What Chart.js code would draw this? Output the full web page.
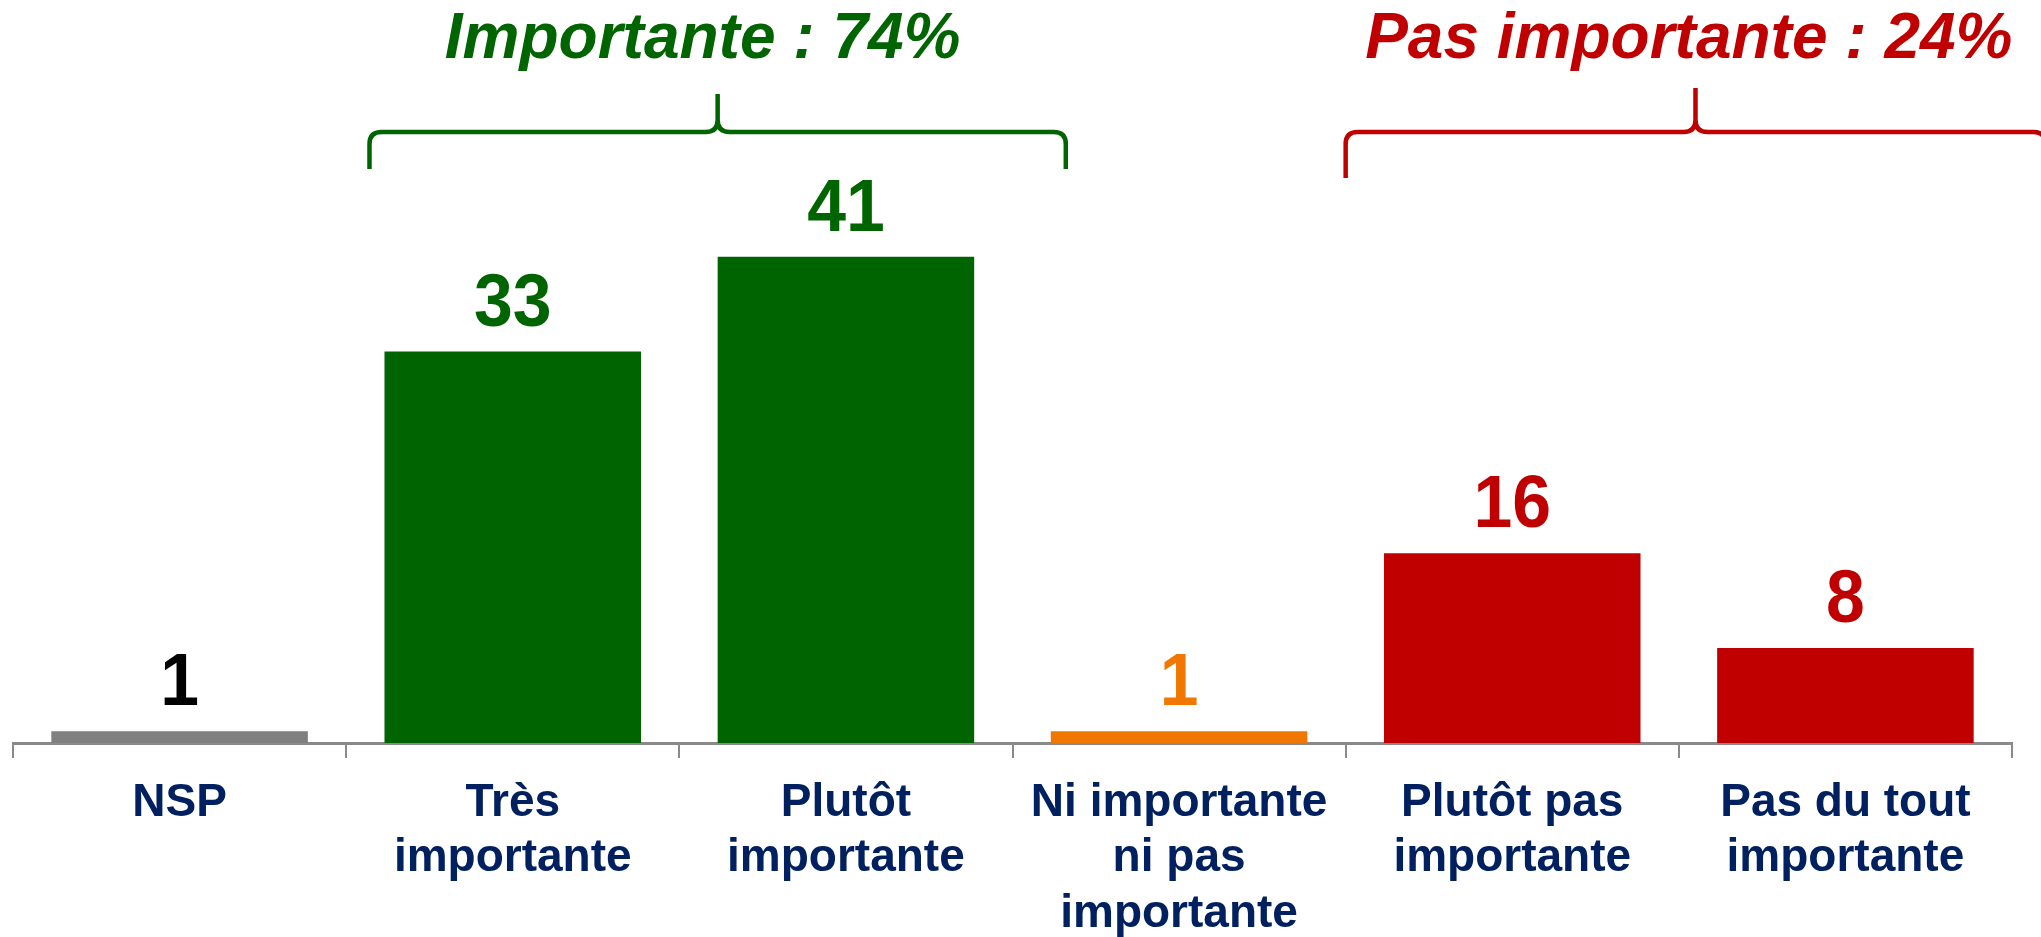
<!DOCTYPE html>
<html lang="fr">
<head>
<meta charset="utf-8">
<title>Importance</title>
<script src="https://cdn.jsdelivr.net/npm/chart.js@4.4.1/dist/chart.umd.min.js"></script>
<style>
  html, body { margin: 0; padding: 0; background: #fff; }
  #wrap { width: 2041px; height: 937px; position: relative; }
</style>
</head>
<body>
<div id="wrap"><canvas id="graphique"></canvas></div>
<script>
// réponses (en %)
const categories = [
    'NSP',
    ['Très', 'importante'],
    ['Plutôt', 'importante'],
    ['Ni importante', 'ni pas', 'importante'],
    ['Plutôt pas', 'importante'],
    ['Pas du tout', 'importante']
];
const valeurs = [1, 33, 41, 1, 16, 8];
const couleursBarres = ['#808080', '#006400', '#006400', '#f07800', '#c00000', '#c00000'];
const couleursValeurs = ['#000000', '#006400', '#006400', '#f07800', '#c00000', '#c00000'];

// regroupements en haut (indices des catégories)
const groupesNoms = ['Importante', 'Pas importante'];
const groupesIndices = [[1, 2], [4, 5]];
const groupesCouleurs = ['#006400', '#c00000'];
const groupesEtendue = [[0.57, 2.66], [3.5, 5.6]];
const groupesTexte = [1.57, 4.53];

const POLICE = "'Liberation Sans', Arial, sans-serif";

// valeurs au-dessus des barres (chiffres un peu resserrés)
const pluginValeurs = {
    id: 'valeurs',
    afterDatasetsDraw(chart) {
        const ctx = chart.ctx;
        const meta = chart.getDatasetMeta(0);
        meta.data.forEach((barre, i) => {
            ctx.save();
            ctx.font = 'bold 75px ' + POLICE;
            ctx.textAlign = 'center';
            ctx.textBaseline = 'alphabetic';
            ctx.fillStyle = couleursValeurs[i];
            ctx.translate(barre.x, barre.y - 26);
            ctx.scale(0.93, 1);
            ctx.fillText(String(valeurs[i]), 0, 0);
            ctx.restore();
        });
    }
};

// accolades et totaux des groupes
const pluginGroupes = {
    id: 'groupes',
    afterDraw(chart) {
        const ctx = chart.ctx;
        const x = chart.scales.x;
        ctx.save();
        groupesNoms.forEach((nom, g) => {
            const total = groupesIndices[g].reduce((s, i) => s + valeurs[i], 0);
            const x0 = x.getPixelForValue(groupesEtendue[g][0]);
            const x1 = x.getPixelForValue(groupesEtendue[g][1]);
            const xm = (x0 + x1) / 2;
            const yH = 132, yBas = g === 0 ? 169 : 178, yHaut = g === 0 ? 94 : 88, r = 12;

            ctx.strokeStyle = groupesCouleurs[g];
            ctx.lineWidth = 4.5;
            ctx.lineJoin = 'round';
            ctx.beginPath();
            ctx.moveTo(x0, yBas);
            ctx.lineTo(x0, yH + r);
            ctx.quadraticCurveTo(x0, yH, x0 + r, yH);
            ctx.lineTo(xm - r, yH);
            ctx.quadraticCurveTo(xm, yH, xm, yH - r);
            ctx.lineTo(xm, yHaut);
            ctx.moveTo(xm, yH - r);
            ctx.quadraticCurveTo(xm, yH, xm + r, yH);
            ctx.lineTo(x1 - r, yH);
            ctx.quadraticCurveTo(x1, yH, x1, yH + r);
            ctx.lineTo(x1, yBas);
            ctx.stroke();

            ctx.fillStyle = groupesCouleurs[g];
            ctx.font = 'italic bold 64px ' + POLICE;
            ctx.textAlign = 'center';
            ctx.textBaseline = 'alphabetic';
            ctx.fillText(nom + ' : ' + total + '%', x.getPixelForValue(groupesTexte[g]), 58);
        });
        ctx.restore();
    }
};

const ctx = document.getElementById('graphique').getContext('2d');
new Chart(ctx, {
    type: 'bar',
    data: {
        labels: categories,
        datasets: [{
            data: valeurs,
            backgroundColor: couleursBarres,
            borderWidth: 0,
            barPercentage: 0.77,
            categoryPercentage: 1
        }]
    },
    options: {
        responsive: true,
        maintainAspectRatio: false,
        animation: false,
        events: [],
        layout: { padding: { top: 150, left: 13, right: 29, bottom: 0 } },
        plugins: {
            legend: { display: false },
            tooltip: { enabled: false }
        },
        scales: {
            y: { display: false, min: 0, max: 50 },
            x: {
                afterFit(scale) { scale.height = 194; },
                border: { display: true, color: '#8a8a8a', width: 3 },
                grid: {
                    offset: true,
                    drawOnChartArea: false,
                    drawTicks: true,
                    tickLength: 15,
                    color: '#8a8a8a',
                    lineWidth: 2
                },
                ticks: {
                    color: '#002060',
                    padding: 18,
                    maxRotation: 0,
                    autoSkip: false,
                    font: { family: POLICE, size: 46, weight: 'bold', lineHeight: 1.2 }
                }
            }
        }
    },
    plugins: [pluginValeurs, pluginGroupes]
});
</script>
</body>
</html>
